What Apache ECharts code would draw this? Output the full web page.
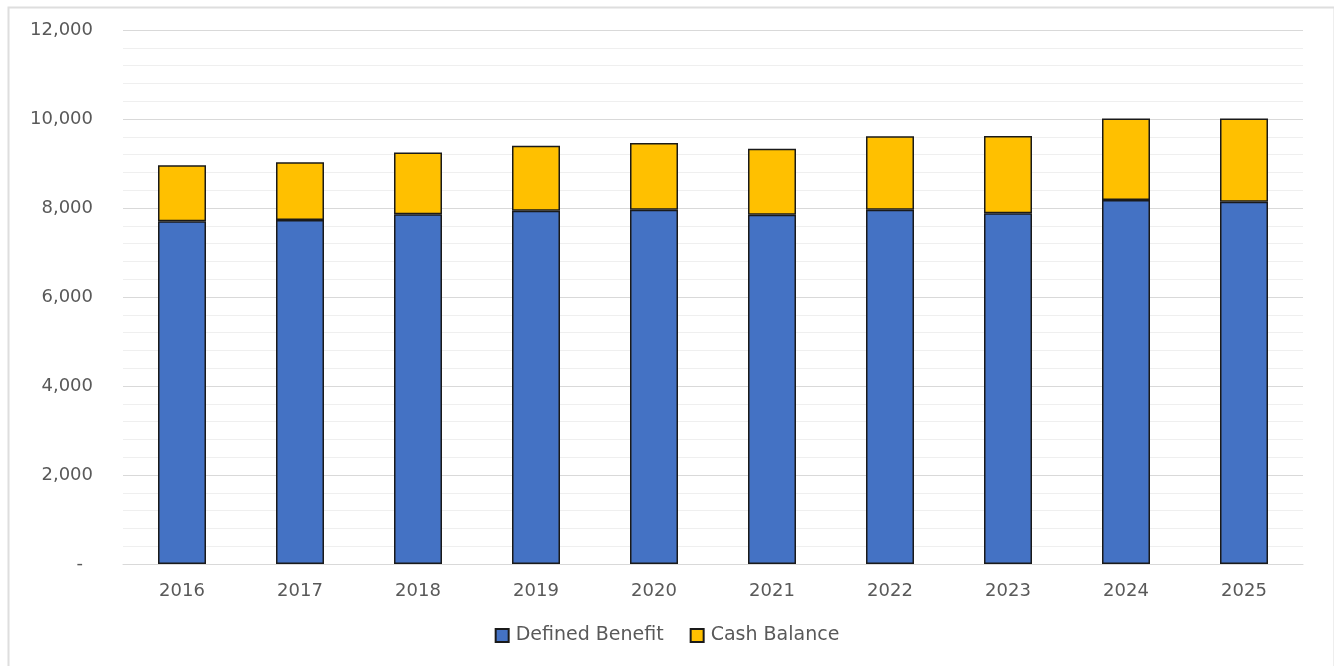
<!DOCTYPE html>
<html>
<head>
<meta charset="utf-8">
<script src="https://cdn.jsdelivr.net/npm/echarts@6/dist/echarts.min.js"></script>
<style>
  html, body { margin: 0; padding: 0; background: #fff; }
  #chart { width: 1334px; height: 666px; }
</style>
</head>
<body>
<div id="chart"></div>
<script>
// Plan participants by year, split by plan type
const years = ['2016', '2017', '2018', '2019', '2020', '2021', '2022', '2023', '2024', '2025'];
const definedBenefit = [7700, 7730, 7860, 7940, 7960, 7850, 7960, 7880, 8180, 8140];
const cashBalance = [1260, 1300, 1390, 1460, 1500, 1480, 1650, 1740, 1830, 1870];
const seriesNames = ['Defined Benefit', 'Cash Balance'];

const textColor = '#595959';
const fontFamily = 'DejaVu Sans, sans-serif';

const chart = echarts.init(document.getElementById('chart'), null, { renderer: 'canvas' });

chart.setOption({
  animation: false,
  backgroundColor: '#ffffff',
  graphic: [{
    type: 'rect',
    left: 6, top: 5,
    shape: { width: 1326, height: 680 },
    style: { fill: 'none', stroke: '#dedede', lineWidth: 2 },
    silent: true, z: -10
  }],
  grid: { left: 123, right: 31, top: 30, bottom: 102, containLabel: false },
  legend: {
    data: seriesNames,
    bottom: 16,
    left: 'center',
    itemWidth: 13,
    itemHeight: 13,
    itemGap: 26,
    icon: 'rect',
    textStyle: { color: textColor, fontSize: 19, fontFamily: fontFamily, padding: [0, 0, 0, 2] }
  },
  xAxis: {
    type: 'category',
    data: years,
    axisLine: { show: true, lineStyle: { color: '#d9d9d9', width: 1 } },
    axisTick: { show: false },
    axisLabel: { color: textColor, fontSize: 18, fontFamily: fontFamily, margin: 18 }
  },
  yAxis: {
    type: 'value',
    min: 0,
    max: 12000,
    interval: 2000,
    axisLine: { show: false },
    axisTick: { show: false },
    splitLine: { show: true, lineStyle: { color: '#d9d9d9', width: 1 } },
    minorTick: { show: false, splitNumber: 5 },
    minorSplitLine: { show: true, lineStyle: { color: '#efefef', width: 1 } },
    axisLabel: {
      color: textColor, fontSize: 18, fontFamily: fontFamily, margin: 30,
      formatter: function (v) {
        return v === 0 ? '{dash|-}' : v.toLocaleString('en-US');
      },
      rich: {
        dash: { color: textColor, fontSize: 18, fontFamily: fontFamily, padding: [0, 10, 0, 0] }
      }
    }
  },
  series: [
    {
      name: seriesNames[0],
      type: 'bar',
      stack: 'total',
      barWidth: 48,
      data: definedBenefit,
      itemStyle: { color: '#4472C4', borderColor: '#1a1a1a', borderWidth: 1.5 }
    },
    {
      name: seriesNames[1],
      type: 'bar',
      stack: 'total',
      barWidth: 48,
      data: cashBalance,
      itemStyle: { color: '#FFC000', borderColor: '#1a1a1a', borderWidth: 1.5 }
    }
  ]
});
</script>
</body>
</html>
